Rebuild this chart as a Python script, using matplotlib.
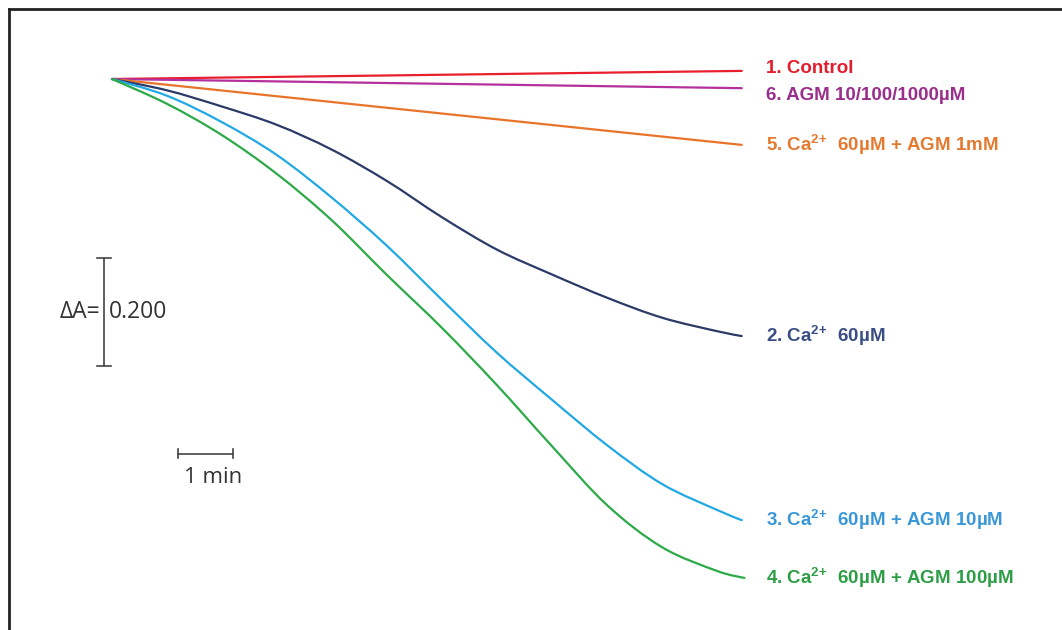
import numpy as np
import matplotlib.pyplot as plt
from matplotlib.lines import Line2D
from matplotlib.path import Path
from matplotlib.patches import PathPatch

plt.rcParams['mathtext.fontset'] = 'custom'
plt.rcParams['mathtext.rm'] = 'Liberation Sans:bold'
plt.rcParams['mathtext.it'] = 'Liberation Sans:bold'
plt.rcParams['mathtext.bf'] = 'Liberation Sans:bold'

# time (min) and absorbance change for each trace
t = [0, 1, 2, 3, 4, 5, 6, 7, 8, 9, 10, 11, 11.45]
t_green = [0, 1, 2, 3, 4, 5, 6, 7, 8, 9, 10, 11, 11.5]
t_flat = [0, 11.45]

control = [0, 0.015]
agm = [0, -0.017]
ca_agm1mm = [0, -0.122]
ca60 = [0, -0.021, -0.051, -0.085, -0.131, -0.189, -0.256, -0.316, -0.362,
        -0.405, -0.442, -0.467, -0.476]
ca_agm10 = [0, -0.031, -0.080, -0.141, -0.220, -0.309, -0.409, -0.507, -0.594,
            -0.678, -0.750, -0.798, -0.817]
ca_agm100 = [0, -0.046, -0.104, -0.176, -0.262, -0.363, -0.461, -0.567, -0.680,
             -0.789, -0.867, -0.911, -0.924]

sup = "$^{2}$$^{+}$ "
labels = ["1. Control", "6. AGM 10/100/1000µM", "5. Ca" + sup + " 60µM + AGM 1mM",
          "2. Ca" + sup + " 60µM", "3. Ca" + sup + " 60µM + AGM 10µM",
          "4. Ca" + sup + " 60µM + AGM 100µM"]
line_colors = ["#e8202e", "#b4309c", "#e8742c", "#2c3a68", "#22a8e4", "#2caa48"]
text_colors = ["#e21e2c", "#9a2e8c", "#e47a30", "#3a4e84", "#3a98d8", "#2e9e46"]


def smooth(x, y):
    # Catmull-Rom spline through the samples, drawn as cubic Bezier segments
    p = np.column_stack([x, y]).astype(float)
    if len(p) < 3:
        return Path(p)
    verts = [p[0]]
    codes = [Path.MOVETO]
    for i in range(len(p) - 1):
        p0 = p[i - 1] if i > 0 else p[i]
        p1, p2 = p[i], p[i + 1]
        p3 = p[i + 2] if i + 2 < len(p) else p[i + 1]
        verts += [p1 + (p2 - p0) / 6, p2 - (p3 - p1) / 6, p2]
        codes += [Path.CURVE4] * 3
    return Path(verts, codes)


fig = plt.figure(figsize=(10.62, 6.30), dpi=100)
ax = fig.add_axes([0, 0, 1, 1])
ax.set_xlim(-2.036, 17.273)
ax.set_ylim(-1.0204, 0.1463)
ax.axis('off')

series = [(t_flat, control), (t_flat, agm), (t_flat, ca_agm1mm),
          (t, ca60), (t, ca_agm10), (t_green, ca_agm100)]
for (x, y), c in zip(series, line_colors):
    ax.add_patch(PathPatch(smooth(x, y), fill=False, edgecolor=c, lw=1.6,
                           capstyle='round', joinstyle='round'))

label_y = [0.019, -0.030, -0.122, -0.476, -0.817, -0.924]
for lab, yy, c in zip(labels, label_y, text_colors):
    ax.text(11.9, yy, lab, color=c, fontsize=13.5, fontweight='bold',
            family='Liberation Sans', va='center', ha='left')

# scale bars
bar_c = "#444444"
ax.plot([-0.145, -0.145], [-0.3315, -0.5315], color=bar_c, lw=1.2)
ax.plot([-0.27, -0.02], [-0.3315, -0.3315], color=bar_c, lw=1.2)
ax.plot([-0.27, -0.02], [-0.5315, -0.5315], color=bar_c, lw=1.2)
ax.text(-0.22, -0.431, "ΔA=", fontsize=16.5, family='Open Sans', color="#333333",
        ha='right', va='center')
ax.text(-0.05, -0.431, "0.200", fontsize=16.5, family='Open Sans', color="#333333",
        ha='left', va='center')

ax.plot([1.2, 2.2], [-0.694, -0.694], color=bar_c, lw=1.2)
ax.plot([1.2, 1.2], [-0.686, -0.702], color=bar_c, lw=1.2)
ax.plot([2.2, 2.2], [-0.686, -0.702], color=bar_c, lw=1.2)
ax.text(1.84, -0.738, "1 min", fontsize=16, family='Open Sans', color="#333333",
        ha='center', va='center')

# border
fig.add_artist(Line2D([9 / 1062, 9 / 1062], [0, 1 - 9 / 630], color="#222222",
                      lw=2, transform=fig.transFigure))
fig.add_artist(Line2D([9 / 1062, 1], [1 - 9 / 630, 1 - 9 / 630], color="#222222",
                      lw=2, transform=fig.transFigure))

fig.savefig("out.png", dpi=100)
